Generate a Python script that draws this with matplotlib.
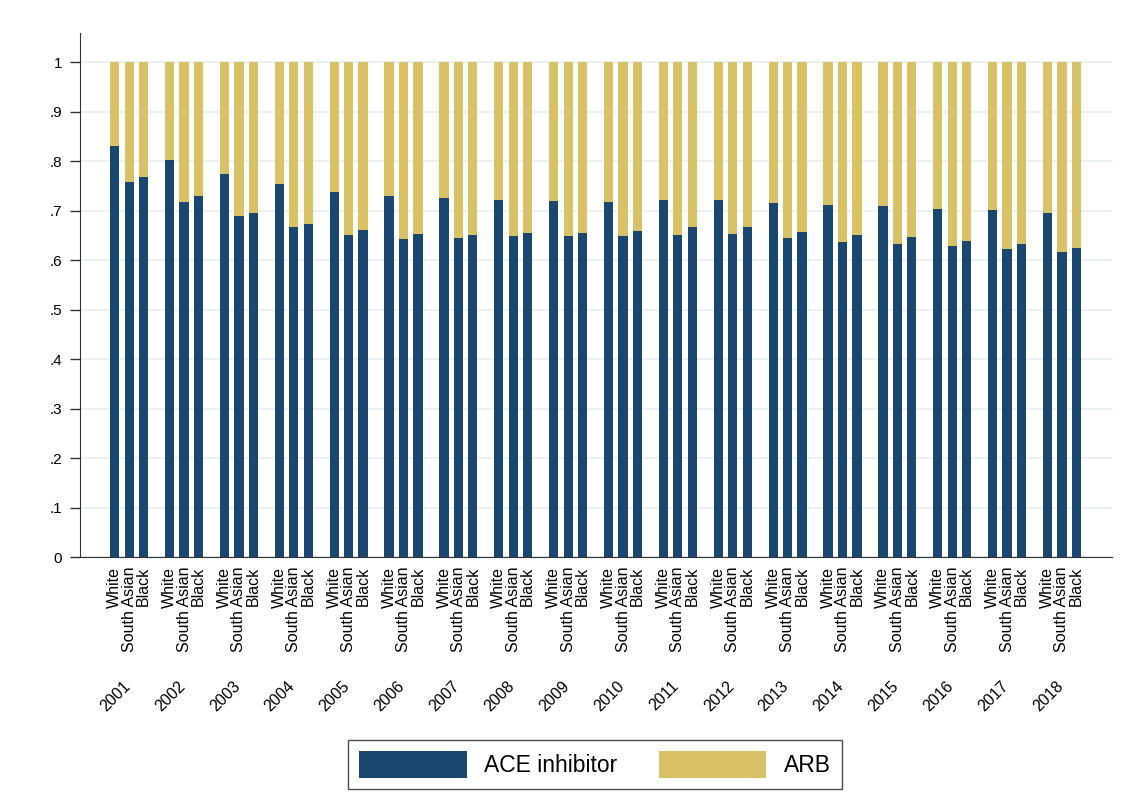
import numpy as np
import matplotlib
matplotlib.use("Agg")
import matplotlib.pyplot as plt
from matplotlib.patches import Patch
from matplotlib.transforms import blended_transform_factory

plt.rcParams["font.family"] = ["Liberation Sans", "DejaVu Sans"]

# share of ACE inhibitor among ACEi/ARB users, by year and ethnicity
years = [str(y) for y in range(2001, 2019)]
groups = ["White", "South Asian", "Black"]
ace_white = [0.830, 0.802, 0.774, 0.754, 0.738, 0.730, 0.725, 0.722, 0.720,
             0.718, 0.722, 0.721, 0.715, 0.711, 0.709, 0.704, 0.701, 0.696]
ace_south_asian = [0.758, 0.718, 0.689, 0.667, 0.650, 0.643, 0.645, 0.648, 0.648,
                   0.648, 0.651, 0.652, 0.645, 0.636, 0.632, 0.628, 0.622, 0.616]
ace_black = [0.768, 0.729, 0.696, 0.674, 0.660, 0.652, 0.650, 0.654, 0.655,
             0.658, 0.666, 0.667, 0.657, 0.650, 0.646, 0.639, 0.632, 0.624]

navy = "#1a476f"
gold = "#d9c266"

fig = plt.figure(figsize=(11.41, 7.92), dpi=100)
ax = fig.add_axes([0.0701, 0.2967, 0.9045, 0.6616])

step = 3.8
ace = np.array([ace_white, ace_south_asian, ace_black])  # (3, n_years)
xpos, ace_vals, labels = [], [], []
for g in range(len(years)):
    for i in range(3):
        xpos.append(g * step + i)
        ace_vals.append(ace[i, g])
        labels.append(groups[i])
xpos = np.array(xpos)
ace_vals = np.array(ace_vals)
arb_vals = 1 - ace_vals

w = 0.64
ax.bar(xpos, ace_vals, width=w, color=navy, zorder=3)
ax.bar(xpos, arb_vals, width=w, bottom=ace_vals, color=gold, zorder=3)

ax.set_xlim(-2.41, (len(years) - 1) * step + 2 + 2.47)
ax.set_ylim(0, 1.059)
yt = np.arange(0, 1.01, 0.1)
ax.set_yticks(yt)
ax.set_yticklabels(["0"] + [f".{k}" for k in range(1, 10)] + ["1"], fontsize=11)
ax.grid(axis="y", color="#e6eff1", linewidth=1.2, zorder=0)
ax.tick_params(axis="y", length=7, width=1, color="#333333", pad=6)

ax.set_xticks(xpos)
ax.set_xticklabels(labels, rotation=90, fontsize=11.5, va="top")
ax.tick_params(axis="x", length=0, pad=7)

for s in ["top", "right"]:
    ax.spines[s].set_visible(False)
ax.spines["left"].set_color("#333333")
ax.spines["bottom"].set_color("#333333")

# year labels under each group
trans = blended_transform_factory(ax.transData, ax.transAxes)
for g, yr in enumerate(years):
    ax.text(g * step + 0.55, -0.232, yr, rotation=45, ha="right", va="top",
            fontsize=11.5, transform=trans, rotation_mode="anchor")

handles = [Patch(facecolor=navy, label="ACE inhibitor"),
           Patch(facecolor=gold, label="ARB")]
leg = fig.legend(handles=handles, loc="center", bbox_to_anchor=(0.5215, 0.0345),
                 ncol=2, fontsize=16.5, frameon=True, fancybox=False,
                 handlelength=4.7, handleheight=1.4, handletextpad=0.75,
                 columnspacing=1.8, borderpad=0.5)
leg.get_frame().set_edgecolor("#222222")
leg.get_frame().set_linewidth(1.0)

fig.savefig("out.png", dpi=100)
